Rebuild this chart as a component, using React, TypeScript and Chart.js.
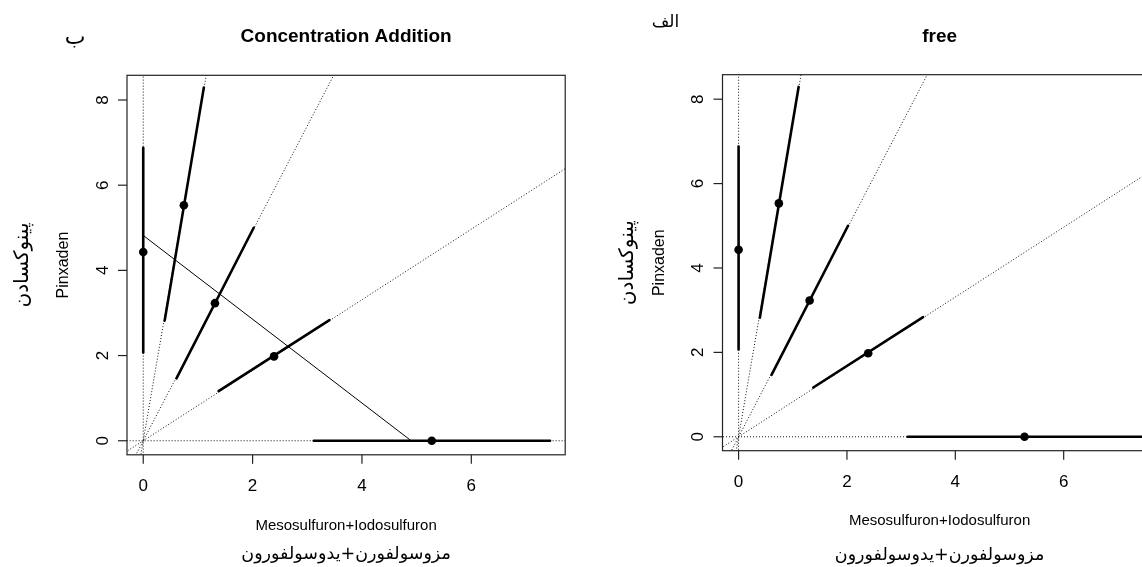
import React, { useEffect, useRef } from 'react';
import { Chart, registerables } from 'chart.js';

Chart.register(...registerables);

// ---- data ----
const pointX = [0, 0.743, 1.311, 2.392, 5.277];
const pointY = [4.43, 5.53, 3.23, 1.98, 0];
const lowerX = [0, 0.392, 0.608, 1.378, 3.12];
const lowerY = [2.07, 2.82, 1.465, 1.167, 0];
const upperX = [0, 1.108, 2.02, 3.405, 7.44];
const upperY = [6.88, 8.29, 5.0, 2.834, 0];
const caLineX = [0, 4.9];
const caLineY = [4.82, 0];
const xTickValues = [0, 2, 4, 6];
const yTickValues = [0, 2, 4, 6, 8];

const titleLeft = 'Concentration Addition';
const titleRight = 'free';
const tagLeft = 'ب';
const tagRight = 'الف';
const xTitleEn = 'Mesosulfuron+Iodosulfuron';
const xTitleFa = 'مزوسولفورن+یدوسولفورون';
const yTitleEn = 'Pinxaden';
const yTitleFa = 'پینوکسادن';

const X_MIN = -0.297;
const X_MAX = 7.717;
const Y_MIN = -0.33;
const Y_MAX = 8.58;

type Spec = {
  canvasLeft: number;
  canvasWidth: number;
  padding: { left: number; top: number; right: number; bottom: number };
  title: string;
  tag: string;
  tagX: number;
  tagY: number;
  tagSize: number;
  showCA: boolean;
  yFaOff: number;
  xTitleY: number;
  xFaY: number;
};

const specs: Spec[] = [
  {
    canvasLeft: 0,
    canvasWidth: 571,
    padding: { left: 127, top: 75.3, right: 5.8, bottom: 112.2 },
    title: titleLeft,
    tag: tagLeft,
    tagX: 75,
    tagY: 38,
    tagSize: 22,
    showCA: true,
    yFaOff: 104,
    xTitleY: 526,
    xFaY: 554,
  },
  {
    canvasLeft: 571,
    canvasWidth: 620,
    padding: { left: 151.5, top: 74.7, right: 34.3, bottom: 116.3 },
    title: titleRight,
    tag: tagRight,
    tagX: 94.5,
    tagY: 23,
    tagSize: 17,
    showCA: false,
    yFaOff: 95,
    xTitleY: 521,
    xFaY: 555,
  },
];

const SANS = '"Liberation Sans", Arial, Helvetica, sans-serif';
const ARABIC = '"DejaVu Sans", "Noto Sans", sans-serif';

function buildDatasets(showCA: boolean) {
  const ds: any[] = [];
  ds.push({
    data: pointX.map((x, i) => ({ x, y: pointY[i] })),
    showLine: false,
    pointRadius: 4.3,
    pointBackgroundColor: '#000',
    pointBorderColor: '#000',
    pointBorderWidth: 0,
  });
  if (showCA) {
    ds.push({
      data: caLineX.map((x, i) => ({ x, y: caLineY[i] })),
      showLine: true,
      borderColor: '#000',
      borderWidth: 1,
      pointRadius: 0,
    });
  }
  pointX.forEach((_, i) => {
    ds.push({
      data: [
        { x: lowerX[i], y: lowerY[i] },
        { x: upperX[i], y: upperY[i] },
      ],
      showLine: true,
      borderColor: '#000',
      borderWidth: 2.6,
      borderCapStyle: 'round',
      pointRadius: 0,
    });
  });
  pointX.forEach((px, i) => {
    const py = pointY[i];
    const k = 20 / Math.hypot(px, py);
    ds.push({
      data: [
        { x: -px * k, y: -py * k },
        { x: px * k, y: py * k },
      ],
      showLine: true,
      borderColor: '#111',
      borderWidth: 1,
      borderDash: [1, 2],
      pointRadius: 0,
    });
  });
  return ds;
}

function makeDecorPlugin(spec: Spec) {
  return {
    id: 'decor',
    afterDraw(chart: any) {
      const { ctx, chartArea: a, scales } = chart;
      const xs = scales.x;
      const ys = scales.y;
      ctx.save();
      ctx.strokeStyle = '#222';
      ctx.lineWidth = 1.2;
      ctx.strokeRect(a.left, a.top, a.right - a.left, a.bottom - a.top);

      ctx.fillStyle = '#000';
      ctx.textAlign = 'center';
      ctx.textBaseline = 'middle';
      ctx.font = `17px ${SANS}`;
      xTickValues.forEach((v) => {
        const px = xs.getPixelForValue(v);
        ctx.beginPath();
        ctx.moveTo(px, a.bottom);
        ctx.lineTo(px, a.bottom + 9);
        ctx.stroke();
        ctx.fillText(String(v), px, a.bottom + 32);
      });
      yTickValues.forEach((v) => {
        const py = ys.getPixelForValue(v);
        ctx.beginPath();
        ctx.moveTo(a.left - 9, py);
        ctx.lineTo(a.left, py);
        ctx.stroke();
        ctx.save();
        ctx.translate(a.left - 24, py);
        ctx.rotate(-Math.PI / 2);
        ctx.fillText(String(v), 0, 0);
        ctx.restore();
      });

      const cx = (a.left + a.right) / 2;
      const cy = (a.top + a.bottom) / 2;

      ctx.font = `bold 19px ${SANS}`;
      ctx.fillText(spec.title, cx, 37);

      ctx.font = `15px ${SANS}`;
      ctx.fillText(xTitleEn, cx, spec.xTitleY);
      ctx.save();
      ctx.translate(a.left - 63, cy);
      ctx.rotate(-Math.PI / 2);
      ctx.font = `16px ${SANS}`;
      ctx.fillText(yTitleEn, 0, 0);
      ctx.restore();

      ctx.font = `17.5px ${ARABIC}`;
      ctx.fillText(xTitleFa, cx, spec.xFaY);
      ctx.save();
      ctx.translate(a.left - spec.yFaOff, cy);
      ctx.rotate(-Math.PI / 2);
      ctx.font = `20px ${ARABIC}`;
      ctx.fillText(yTitleFa, 0, 0);
      ctx.restore();

      ctx.font = `${spec.tagSize}px ${ARABIC}`;
      ctx.fillText(spec.tag, spec.tagX, spec.tagY);
      ctx.restore();
    },
  };
}

function Panel({ spec }: { spec: Spec }) {
  const ref = useRef<HTMLCanvasElement | null>(null);
  useEffect(() => {
    if (!ref.current) return;
    const chart = new Chart(ref.current, {
      type: 'scatter',
      data: { datasets: buildDatasets(spec.showCA) },
      options: {
        animation: false,
        responsive: false,
        devicePixelRatio: 1,
        layout: { padding: spec.padding },
        plugins: { legend: { display: false }, tooltip: { enabled: false }, title: { display: false } },
        events: [],
        scales: {
          x: { type: 'linear', min: X_MIN, max: X_MAX, display: false },
          y: { type: 'linear', min: Y_MIN, max: Y_MAX, display: false },
        },
      },
      plugins: [makeDecorPlugin(spec)],
    } as any);
    return () => chart.destroy();
  }, [spec]);
  return (
    <canvas
      ref={ref}
      width={spec.canvasWidth}
      height={567}
      style={{ position: 'absolute', left: spec.canvasLeft, top: 0, width: spec.canvasWidth, height: 567 }}
    />
  );
}

export default function App() {
  return (
    <div
      style={{
        position: 'fixed',
        left: 0,
        top: 0,
        width: 1142,
        height: 567,
        overflow: 'hidden',
        background: '#fff',
      }}
    >
      {specs.map((s, i) => (
        <Panel key={i} spec={s} />
      ))}
    </div>
  );
}
